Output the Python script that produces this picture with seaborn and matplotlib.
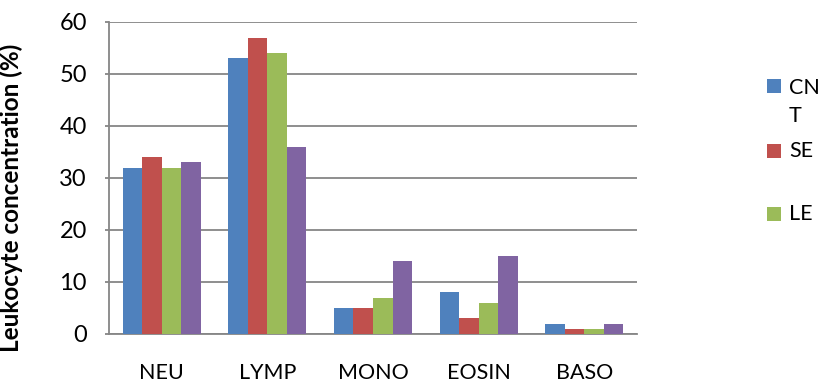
import matplotlib
matplotlib.use("Agg")
import matplotlib.pyplot as plt
from matplotlib.patches import Rectangle
import pandas as pd
import seaborn as sns

# Leukocyte differential counts (%) per cell type and group
categories = ["NEU", "LYMP", "MONO", "EOSIN", "BASO"]
groups = ["CNT", "SE", "LE", "Group 4"]
cnt = [32, 53, 5, 8, 2]
se = [34, 57, 5, 3, 1]
le = [32, 54, 7, 6, 1]
group4 = [33, 36, 14, 15, 2]
yticks = [0, 10, 20, 30, 40, 50, 60]

colors = ["#4F81BD", "#C0504D", "#9BBB59", "#8064A2"]

rows = []
for g, vals in zip(groups, [cnt, se, le, group4]):
    for c, v in zip(categories, vals):
        rows.append({"cell": c, "group": g, "value": v})
df = pd.DataFrame(rows)

sns.set_theme(style="white")
plt.rcParams["font.family"] = ["Lato", "DejaVu Sans"]

W, H = 822, 383
fig = plt.figure(figsize=(W / 100, H / 100), dpi=100)
ax = fig.add_axes([109 / W, 1 - 334 / H, (637 - 109) / W, (334 - 22) / H])

sns.barplot(data=df, x="cell", y="value", hue="group", order=categories,
            hue_order=groups, palette=colors, width=0.74, saturation=1,
            edgecolor="none", linewidth=0, legend=False, ax=ax, zorder=3)

ax.set_xlim(-0.5, 4.5)
ax.set_ylim(0, 60)
ax.set_yticks(yticks)
ax.set_yticklabels([str(t) for t in yticks])
ax.set_xlabel("")
ax.set_ylabel("Leukocyte concentration (%)", fontsize=17.5, fontweight="bold",
              color="black")
ax.yaxis.set_label_coords(-0.163, 0.4375)

grid_color = "#868686"
ax.yaxis.grid(True, color=grid_color, linewidth=1.3, zorder=0)
ax.set_axisbelow(True)
for side in ["top", "right"]:
    ax.spines[side].set_visible(False)
for side in ["left", "bottom"]:
    ax.spines[side].set_color(grid_color)
    ax.spines[side].set_linewidth(1.3)

ax.tick_params(axis="y", which="both", left=True, length=3, width=1.3,
               color=grid_color, pad=13, labelsize=17, labelcolor="black")
ax.tick_params(axis="x", which="both", bottom=False, length=0, pad=21,
               labelsize=15.5, labelcolor="black")

# Legend (three labelled entries, first label wraps onto two lines)
legend_items = [("CN\nT", colors[0], 86, 102), ("SE", colors[1], 151, 151),
                ("LE", colors[2], 214, 214)]
for label, col, ymark, ytext in legend_items:
    fig.add_artist(Rectangle((767 / W, 1 - (ymark + 7) / H), 14 / W, 14 / H,
                             transform=fig.transFigure, facecolor=col,
                             edgecolor="none"))
    fig.text(789 / W, 1 - ytext / H, label, fontsize=15.5, va="center",
             ha="left", color="black", linespacing=1.45)

fig.savefig("out.png", dpi=100)
